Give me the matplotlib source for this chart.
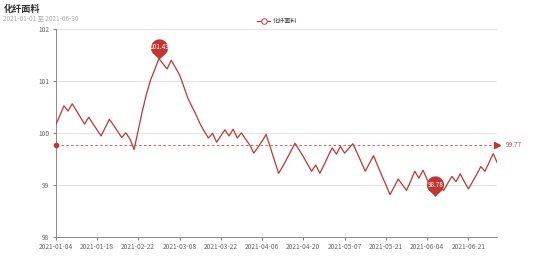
import matplotlib
matplotlib.use('Agg')
import matplotlib.pyplot as plt
from matplotlib.path import Path
from matplotlib.lines import Line2D
import numpy as np

plt.rcParams['font.family'] = ['Noto Sans CJK SC', 'DejaVu Sans']

title = '化纤面料'
subtitle = '2021-01-01 至 2021-06-30'
series_name = '化纤面料'
# one tick label every 10 points
tick_labels = ['2021-01-04', '2021-01-18', '2021-02-22', '2021-03-08', '2021-03-22',
               '2021-04-06', '2021-04-20', '2021-05-07', '2021-05-21', '2021-06-04',
               '2021-06-21']
values = [100.15, 100.33, 100.52, 100.42, 100.56, 100.43, 100.30, 100.17, 100.30, 100.18,
          100.06, 99.94, 100.10, 100.26, 100.15, 100.03, 99.91, 100.00, 99.88, 99.68,
          100.05, 100.42, 100.75, 101.02, 101.22, 101.43, 101.33, 101.23, 101.40, 101.26,
          101.12, 100.90, 100.67, 100.51, 100.35, 100.17, 100.03, 99.90, 99.99, 99.82,
          99.94, 100.06, 99.94, 100.07, 99.90, 100.00, 99.88, 99.77, 99.61, 99.72,
          99.84, 99.97, 99.72, 99.47, 99.22, 99.35, 99.50, 99.65, 99.80, 99.67,
          99.54, 99.40, 99.26, 99.38, 99.22, 99.38, 99.55, 99.71, 99.59, 99.74,
          99.61, 99.70, 99.79, 99.62, 99.44, 99.26, 99.41, 99.56, 99.37, 99.18,
          99.00, 98.81, 98.96, 99.11, 99.00, 98.89, 99.07, 99.26, 99.13, 99.28,
          99.10, 98.95, 98.78, 98.98, 98.89, 99.03, 99.16, 99.06, 99.21, 99.06,
          98.92, 99.06, 99.20, 99.35, 99.26, 99.43, 99.60, 99.42]
avg_value = 99.77

red = '#c23531'
x = np.arange(len(values))
y = np.array(values)

fig = plt.figure(figsize=(5.54, 2.65), dpi=100)
ax = fig.add_axes([0.1005, 0.1068, 0.7972, 0.7838])

ax.plot(x, y, color=red, lw=0.9, zorder=3)

# average line
ax.axhline(avg_value, color=red, lw=0.7, ls=(0, (2.5, 2.5)), alpha=0.8, zorder=2)
ax.plot([0], [avg_value], 'o', color=red, ms=3, clip_on=False, zorder=4)
ax.plot([x[-1]], [avg_value], '>', color=red, ms=4, clip_on=False, zorder=4)
ax.annotate(f'{avg_value:.2f}', xy=(x[-1], avg_value), xytext=(6, 0), textcoords='offset points',
            va='center', ha='left', fontsize=4.6, color=red, alpha=0.85, annotation_clip=False)

# pin markers for max / min
theta = np.linspace(np.radians(-48), np.radians(228), 60)
cy, r = 1.15, 0.85
verts = [(r * np.cos(t), cy + r * np.sin(t)) for t in theta] + [(0, 0), (r * np.cos(theta[0]), cy + r * np.sin(theta[0]))]
pin = Path(verts, closed=True)
for idx in (int(np.argmax(y)), int(np.argmin(y))):
    ax.plot([x[idx]], [y[idx]], marker=pin, ms=29, color=red, mec='none', zorder=5, clip_on=False)
    ax.annotate(f'{y[idx]:.2f}', xy=(x[idx], y[idx]), xytext=(0, 8.3), textcoords='offset points',
                ha='center', va='center', fontsize=4.6, color='white', zorder=6)

ax.set_xlim(0, len(values) - 1)
ax.set_ylim(98, 102)
ax.set_yticks([98, 99, 100, 101, 102])
ax.set_yticklabels(['98', '99', '100', '101', '102'])
ax.set_xticks(x[::10])
ax.set_xticklabels(tick_labels)
ax.tick_params(axis='both', labelsize=4.8, colors='#666666', length=2.5, width=0.6, pad=2)
ax.grid(axis='y', color='#e3e3e3', lw=0.7)
ax.set_axisbelow(True)
for s in ('top', 'right'):
    ax.spines[s].set_visible(False)
for s in ('left', 'bottom'):
    ax.spines[s].set_color('#8a8a8a')
    ax.spines[s].set_linewidth(0.7)

fig.text(0.006, 0.966, title, fontsize=6.6, fontweight='bold', color='#333333', va='center')
fig.text(0.006, 0.93, subtitle, fontsize=4.6, color='#aaaaaa', va='center')

handle = Line2D([], [], color=red, lw=0.8, marker='o', ms=4, mfc='white', mec=red, mew=0.7)
fig.legend([handle], [series_name], loc='center', bbox_to_anchor=(0.5, 0.92), frameon=False,
           fontsize=4.4, handlelength=2.2, handletextpad=0.4, labelcolor='#333333')

fig.savefig('out.png', dpi=100)
